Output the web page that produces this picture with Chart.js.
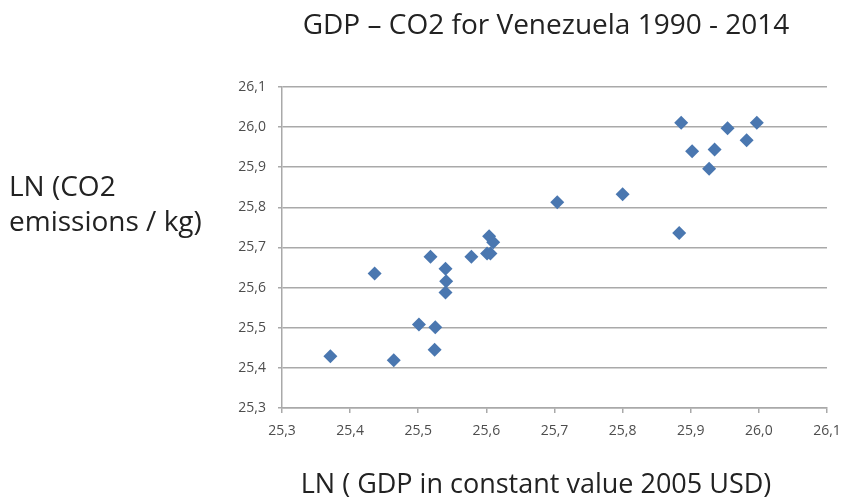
<!DOCTYPE html>
<html>
<head>
<meta charset="utf-8">
<script src="https://cdn.jsdelivr.net/npm/chart.js@4/dist/chart.umd.min.js"></script>
<style>
  html, body { margin: 0; padding: 0; background: #fff; }
  #wrap { width: 845px; height: 502px; position: relative; }
</style>
</head>
<body>
<div id="wrap"><canvas id="scatterChart" width="845" height="502"></canvas></div>
<script>
// LN(GDP) vs LN(CO2) for Venezuela, 1990 - 2014
const lnGdp = [25.371, 25.436, 25.464, 25.501, 25.525, 25.524, 25.518, 25.540, 25.541, 25.540,
               25.578, 25.601, 25.606, 25.604, 25.610, 25.704, 25.800, 25.883, 25.886, 25.902,
               25.935, 25.927, 25.954, 25.982, 25.997];
const lnCo2 = [25.429, 25.635, 25.419, 25.508, 25.501, 25.445, 25.677, 25.647, 25.616, 25.588,
               25.677, 25.685, 25.685, 25.728, 25.713, 25.813, 25.833, 25.736, 26.011, 25.940,
               25.944, 25.896, 25.997, 25.967, 26.011];
const axisMin = 25.3;
const axisMax = 26.1;
const axisStep = 0.1;

const titleText = 'GDP \u2013 CO2 for Venezuela 1990 - 2014';
const yTitleLines = ['LN (CO2', 'emissions / kg)'];
const xTitleText = 'LN ( GDP in constant value 2005 USD)';

const FONT = "'Open Sans', 'Noto Sans', sans-serif";
const gridGrey = '#a9a9a9';
const tickGrey = '#4d4d4d';

const points = lnGdp.map((x, i) => ({ x, y: lnCo2[i] }));

const commaLabel = v => Number(v).toFixed(1).replace('.', ',');

// titles drawn as canvas text at fixed spots, like the original sheet
const titlesPlugin = {
  id: 'titles',
  afterDraw(chart) {
    const c = chart.ctx;
    c.save();
    c.fillStyle = '#222222';
    c.textBaseline = 'alphabetic';
    c.font = `28px ${FONT}`;
    c.textAlign = 'center';
    c.fillText(titleText, 546, 34);
    c.font = `27px ${FONT}`;
    c.fillText(xTitleText, 536, 493);
    c.textAlign = 'left';
    c.font = `28px ${FONT}`;
    c.fillText(yTitleLines[0], 9, 196);
    c.fillText(yTitleLines[1], 9, 231);
    c.restore();
  }
};

new Chart(document.getElementById('scatterChart'), {
  type: 'scatter',
  data: {
    datasets: [{
      label: 'LN CO2',
      data: points,
      pointStyle: 'rectRot',
      pointRadius: 7,
      pointHoverRadius: 7,
      backgroundColor: '#4a77b0',
      borderColor: '#4a77b0',
      borderWidth: 0
    }]
  },
  options: {
    responsive: false,
    animation: false,
    layout: { padding: { left: 0, right: 18, top: 87, bottom: 34 } },
    plugins: {
      legend: { display: false },
      title: { display: false },
      tooltip: { enabled: false }
    },
    scales: {
      x: {
        type: 'linear',
        min: axisMin,
        max: axisMax,
        afterFit: s => { s.height = 60; s.paddingLeft = 0; s.paddingRight = 0; },
        ticks: {
          stepSize: axisStep,
          padding: 10,
          color: tickGrey,
          font: { family: FONT, size: 14 },
          callback: commaLabel,
          maxRotation: 0
        },
        grid: { drawOnChartArea: false, drawTicks: true, tickLength: 5, color: gridGrey, lineWidth: 1.5 },
        border: { color: gridGrey, width: 1.5 }
      },
      y: {
        type: 'linear',
        min: axisMin,
        max: axisMax,
        afterFit: s => { s.width = 282; },
        ticks: {
          stepSize: axisStep,
          padding: 12,
          color: tickGrey,
          font: { family: FONT, size: 14 },
          callback: commaLabel
        },
        grid: { color: gridGrey, lineWidth: 1.5, tickLength: 4 },
        border: { color: gridGrey, width: 1.5 }
      }
    }
  },
  plugins: [titlesPlugin]
});
</script>
</body>
</html>
